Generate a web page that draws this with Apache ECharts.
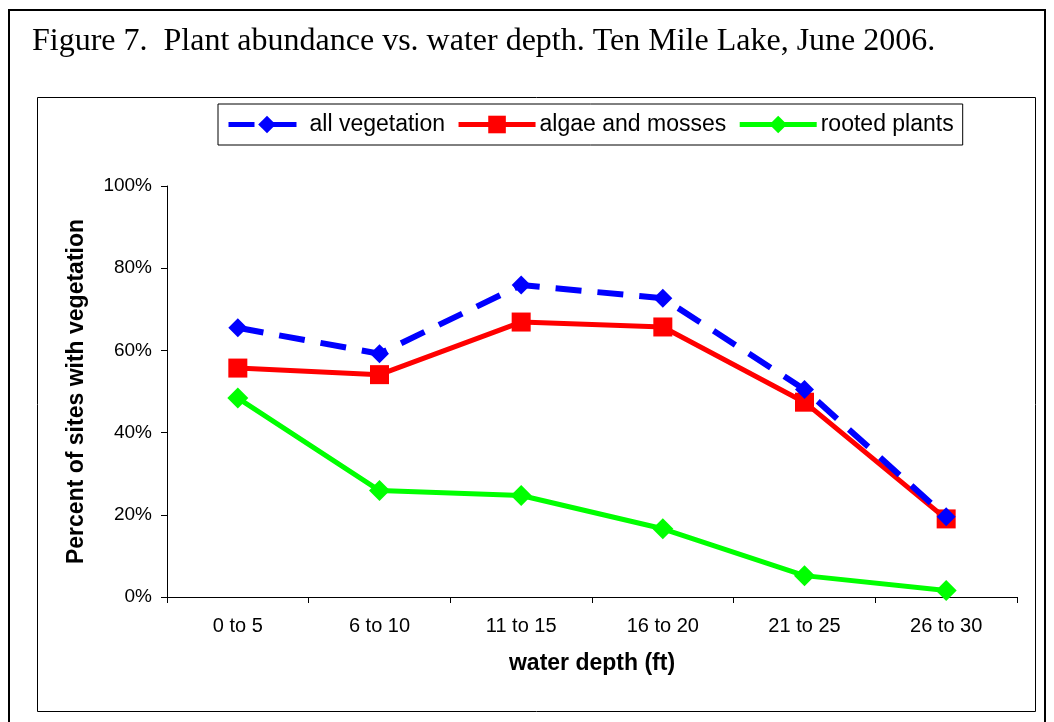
<!DOCTYPE html>
<html>
<head>
<meta charset="utf-8">
<script src="https://cdn.jsdelivr.net/npm/echarts@6/dist/echarts.min.js"></script>
<style>
  html, body { margin: 0; padding: 0; background: #fff; }
  #main { width: 1054px; height: 722px; }
</style>
</head>
<body>
<div id="main"></div>
<script>
// depth classes along the x axis
const depths = ["0 to 5", "6 to 10", "11 to 15", "16 to 20", "21 to 25", "26 to 30"];

// fraction of sites with vegetation
const allVegetation = [0.655, 0.592, 0.759, 0.727, 0.505, 0.195];
const algaeMosses = [0.557, 0.541, 0.669, 0.657, 0.474, 0.190];
const rootedPlants = [0.484, 0.259, 0.247, 0.166, 0.052, 0.016];

const yTicks = [0, 0.2, 0.4, 0.6, 0.8, 1.0];

const chart = echarts.init(document.getElementById("main"), null, { renderer: "canvas" });

const option = {
  backgroundColor: "#fff",
  animation: false,
  title: {
    text: "Figure 7.  Plant abundance vs. water depth. Ten Mile Lake, June 2006.",
    left: 27,
    top: 21,
    textStyle: {
      fontFamily: "Liberation Serif",
      fontWeight: "normal",
      fontSize: 32,
      color: "#000"
    }
  },
  graphic: [
    // outer frame
    {
      type: "rect",
      shape: { x: 9, y: 10, width: 1036, height: 720 },
      style: { fill: null, stroke: "#000", lineWidth: 2 },
      silent: true
    },
    // chart area box
    {
      type: "rect",
      shape: { x: 37.5, y: 97.5, width: 998, height: 614 },
      style: { fill: null, stroke: "#000", lineWidth: 1 },
      silent: true
    }
  ],
  legend: {
    left: 218,
    top: 104,
    padding: [9, 9, 9, 8],
    itemGap: 11,
    itemWidth: 77,
    itemHeight: 22,
    borderColor: "#000",
    borderWidth: 1,
    lineStyle: { width: 5 },
    textStyle: { fontFamily: "Liberation Sans", fontSize: 23, color: "#000", padding: [0, 0, 0, -1] },
    data: ["all vegetation", "algae and mosses", "rooted plants"]
  },
  grid: { left: 167, right: 37, top: 186, bottom: 125 },
  xAxis: {
    type: "category",
    data: depths,
    boundaryGap: true,
    name: "water depth (ft)",
    nameLocation: "middle",
    nameGap: 55,
    nameTextStyle: { fontFamily: "Liberation Sans", fontWeight: "bold", fontSize: 23, color: "#000" },
    axisLine: { lineStyle: { color: "#000", width: 1 } },
    axisTick: { show: true, alignWithLabel: false, length: 6, lineStyle: { color: "#000" } },
    axisLabel: { fontFamily: "Liberation Sans", fontSize: 20, color: "#000", margin: 19 },
    splitLine: { show: false }
  },
  yAxis: {
    type: "value",
    min: yTicks[0],
    max: yTicks[yTicks.length - 1],
    interval: 0.2,
    name: "Percent of sites with vegetation",
    nameLocation: "middle",
    nameGap: 79,
    nameTextStyle: { fontFamily: "Liberation Sans", fontWeight: "bold", fontSize: 23, color: "#000" },
    axisLine: { show: true, lineStyle: { color: "#000", width: 1 } },
    axisTick: { show: true, length: 6, lineStyle: { color: "#000" } },
    axisLabel: {
      fontFamily: "Liberation Sans",
      fontSize: 19,
      color: "#000",
      margin: 15,
      formatter: v => Math.round(v * 100) + "%"
    },
    splitLine: { show: false }
  },
  series: [
    {
      name: "all vegetation",
      type: "line",
      data: allVegetation,
      symbol: "diamond",
      symbolSize: 19,
      itemStyle: { color: "#0000ff" },
      lineStyle: { color: "#0000ff", width: 6, type: [26, 16] },
      z: 3
    },
    {
      name: "algae and mosses",
      type: "line",
      data: algaeMosses,
      symbol: "rect",
      symbolSize: 19,
      itemStyle: { color: "#ff0000" },
      lineStyle: { color: "#ff0000", width: 5 },
      z: 2
    },
    {
      name: "rooted plants",
      type: "line",
      data: rootedPlants,
      symbol: "diamond",
      symbolSize: 21,
      itemStyle: { color: "#00ff00" },
      lineStyle: { color: "#00ff00", width: 5 },
      z: 2
    }
  ]
};

chart.setOption(option);
</script>
</body>
</html>
